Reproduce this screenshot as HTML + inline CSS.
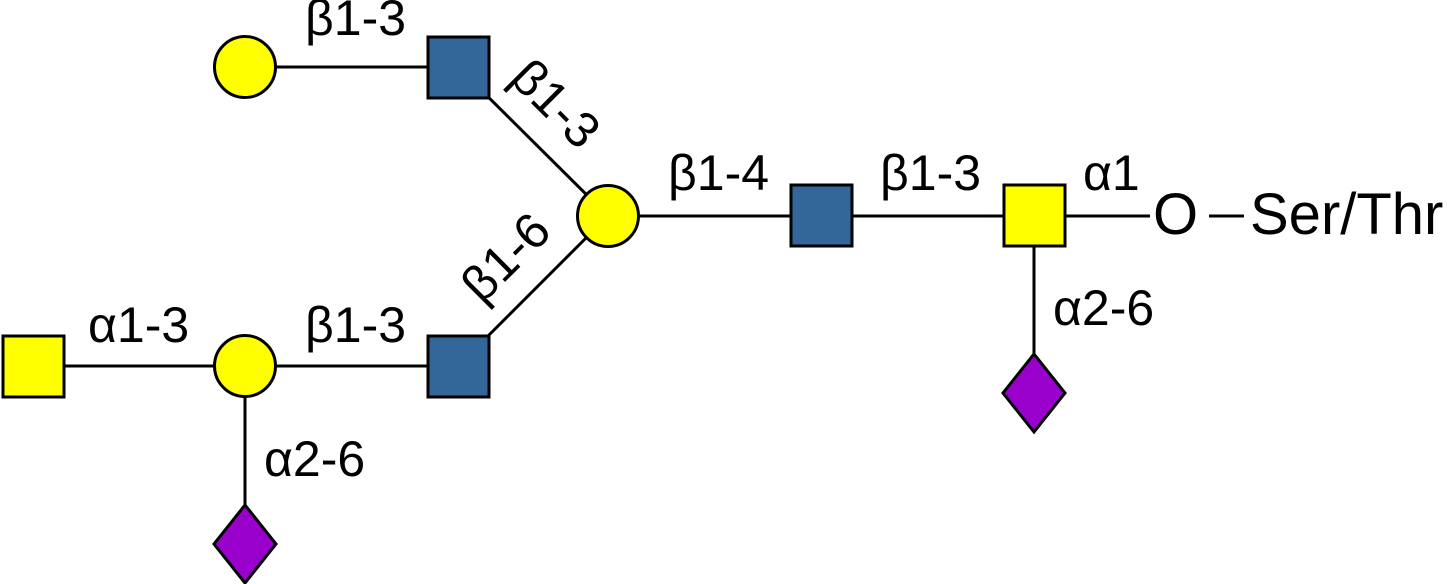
<!DOCTYPE html>
<html><head><meta charset="utf-8"><style>html,body{margin:0;padding:0;background:#fff}svg{display:block}</style></head>
<body>
<svg width="1447" height="584" viewBox="0 0 1447 584" xmlns="http://www.w3.org/2000/svg" font-family="Liberation Sans, Arial, sans-serif" font-size="50" fill="#000">
<g stroke="#000" stroke-width="3" fill="none">
<line x1="245" y1="67" x2="458" y2="67"/>
<line x1="458" y1="67" x2="608" y2="216"/>
<line x1="608" y1="216" x2="458" y2="366"/>
<line x1="608" y1="216" x2="1034" y2="216"/>
<line x1="1034" y1="216" x2="1150" y2="216"/>
<line x1="1209" y1="216" x2="1244" y2="216"/>
<line x1="1034" y1="216" x2="1034" y2="393"/>
<line x1="33" y1="366" x2="458" y2="366"/>
<line x1="245" y1="366" x2="245" y2="544"/>
</g>
<g stroke="#000" stroke-width="3">
<circle cx="245" cy="67" r="30.5" fill="#ffff00"/>
<rect x="428" y="37" width="61" height="61" fill="#336699"/>
<circle cx="608" cy="216" r="30.5" fill="#ffff00"/>
<rect x="791" y="185" width="61" height="61" fill="#336699"/>
<rect x="1004" y="185" width="61" height="61" fill="#ffff00"/>
<polygon points="1034,354 1065,393 1034,432 1003,393" fill="#9900cc"/>
<rect x="3" y="336" width="61" height="61" fill="#ffff00"/>
<circle cx="245" cy="366" r="30.5" fill="#ffff00"/>
<rect x="428" y="336" width="61" height="61" fill="#336699"/>
<polygon points="245,505 276,544 245,583 214,544" fill="#9900cc"/>
</g>
<text x="305" y="35">β1-3</text>
<text x="668" y="190">β1-4</text>
<text x="880" y="190">β1-3</text>
<text x="1083" y="190">α1</text>
<text x="1153" y="234" font-size="58">O</text>
<text x="1250" y="234" font-size="58">Ser/Thr</text>
<text x="1053" y="325">α2-6</text>
<text x="88" y="342">α1-3</text>
<text x="305" y="342">β1-3</text>
<text x="264" y="476">α2-6</text>
<text transform="translate(508,80) rotate(45)">β1-3</text>
<text transform="translate(482,305) rotate(-45)">β1-6</text>
</svg>
</body></html>
